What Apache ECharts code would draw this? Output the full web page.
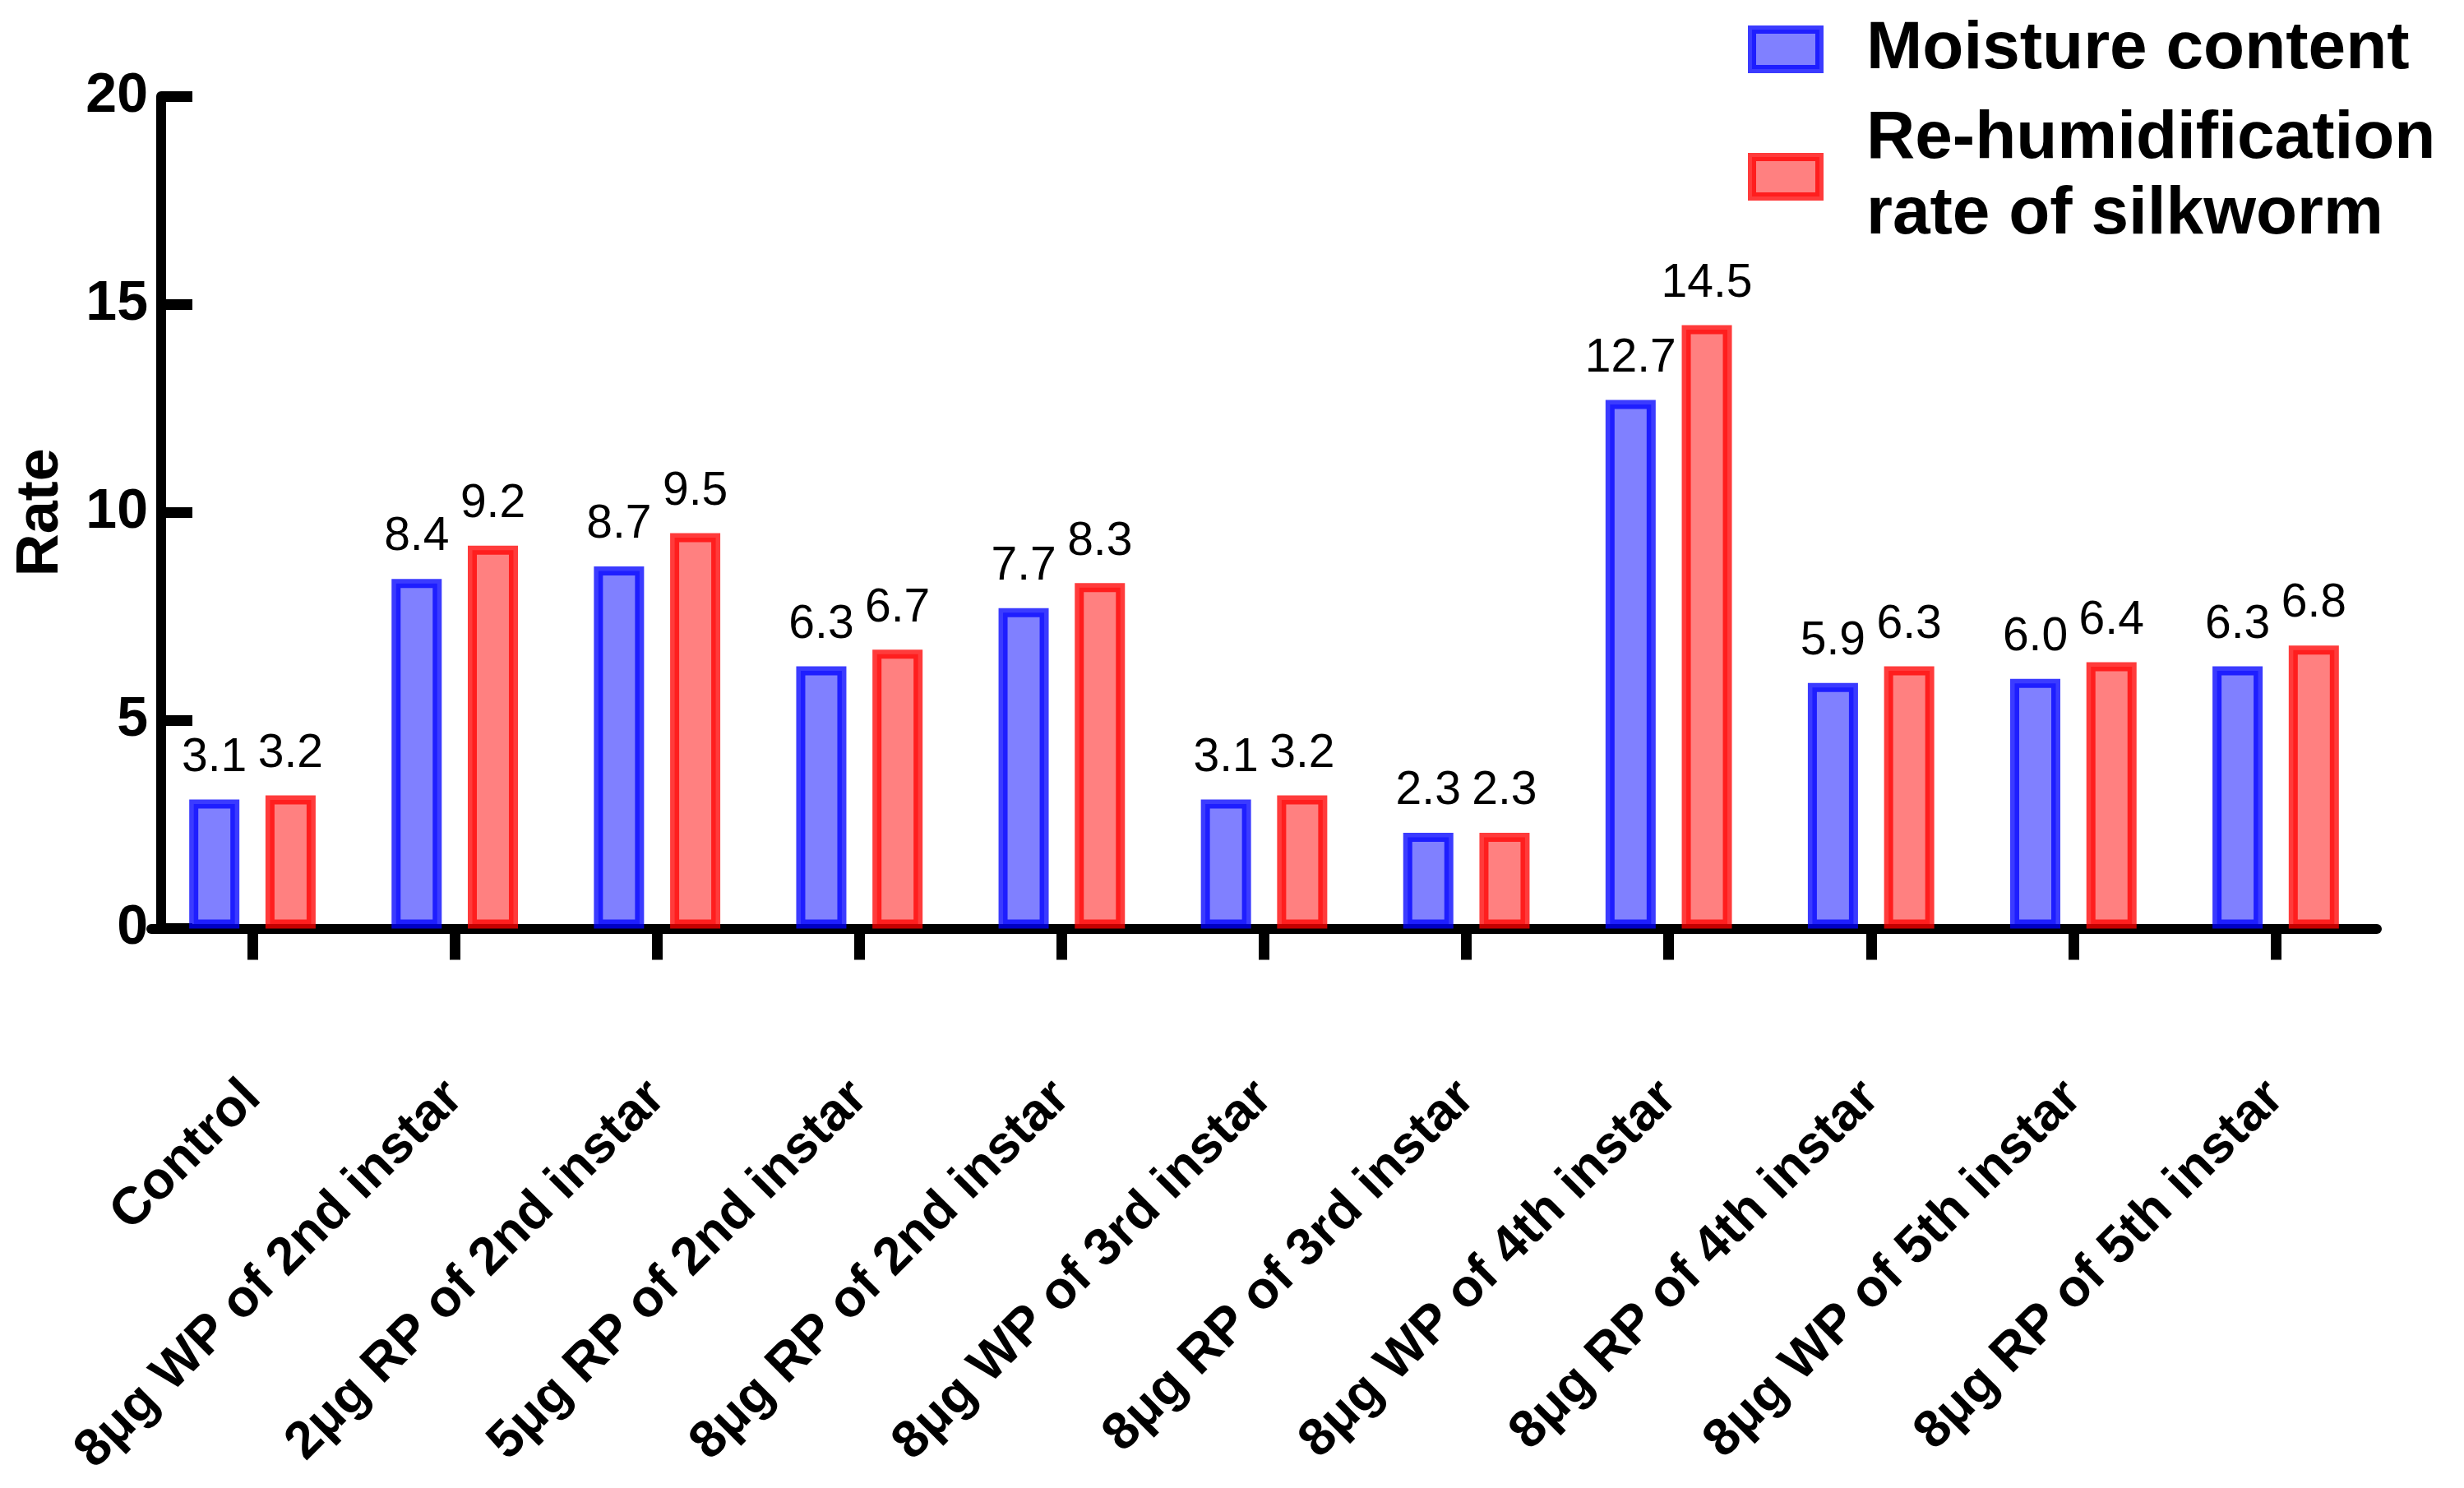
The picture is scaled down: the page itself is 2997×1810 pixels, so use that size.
<!DOCTYPE html>
<html>
<head>
<meta charset="utf-8">
<script src="https://cdn.jsdelivr.net/npm/echarts@6/dist/echarts.min.js"></script>
<style>
html,body{margin:0;padding:0;background:#fff;}
#chart{width:2997px;height:1810px;}
</style>
</head>
<body>
<div id="chart"></div>
<script>
const categories = ['Control', '8μg WP of 2nd instar', '2μg RP of 2nd instar', '5μg RP of 2nd instar', '8μg RP of 2nd instar', '8μg WP of 3rd instar', '8μg RP of 3rd instar', '8μg WP of 4th instar', '8μg RP of 4th instar', '8μg WP of 5th instar', '8μg RP of 5th instar'];
const moistureContent = [3.1, 8.4, 8.7, 6.3, 7.7, 3.1, 2.3, 12.7, 5.9, 6.0, 6.3];
const rehumidificationRate = [3.2, 9.2, 9.5, 6.7, 8.3, 3.2, 2.3, 14.5, 6.3, 6.4, 6.8];
const seriesNames = ['Moisture content', 'Re-humidification\nrate of silkworm'];
const yTicks = [0, 5, 10, 15, 20];

const FONT = 'Liberation Sans, Arial, sans-serif';
const chart = echarts.init(document.getElementById('chart'), null, {renderer: 'canvas'});

function barSeries(name, data, fill, border) {
  return {
    name: name,
    type: 'bar',
    data: data,
    barWidth: 61,
    barGap: '52%',
    itemStyle: {color: fill, borderColor: border, borderWidth: 11},
    label: {
      show: true,
      position: 'top',
      distance: 22,
      fontFamily: FONT,
      fontSize: 57,
      color: '#000',
      formatter: p => Number(p.value).toFixed(1)
    }
  };
}

const option = {
  backgroundColor: '#fff',
  animation: false,
  grid: {left: 184, right: 106, top: 117, bottom: 680.5, containLabel: false},
  legend: {
    orient: 'vertical',
    left: 2121,
    top: 9,
    itemWidth: 82,
    itemHeight: 48,
    itemGap: 17,
    textStyle: {fontFamily: FONT, fontSize: 82, fontWeight: 'bold', color: '#000', lineHeight: 92, padding: [0, 0, 0, 52]},
    data: [
      {name: seriesNames[0], icon: 'rect', itemStyle: {color: '#8080ff', borderColor: 'rgba(0,0,255,0.77)', borderWidth: 10}},
      {name: seriesNames[1], icon: 'rect', itemStyle: {color: '#ff8080', borderColor: 'rgba(255,0,0,0.77)', borderWidth: 10}}
    ]
  },
  xAxis: {
    type: 'category',
    data: categories,
    boundaryGap: true,
    axisLine: {show: true, lineStyle: {color: '#000', width: 12}},
    axisTick: {show: true, alignWithLabel: true, inside: false, length: 38, lineStyle: {color: '#000', width: 13}},
    axisLabel: {
      interval: 0,
      rotate: 45,
      margin: 196,
      fontFamily: FONT,
      fontSize: 64,
      fontWeight: 'bold',
      color: '#000'
    },
    splitLine: {show: false}
  },
  yAxis: {
    type: 'value',
    offset: -12,
    min: yTicks[0],
    max: yTicks[yTicks.length - 1],
    interval: yTicks[1] - yTicks[0],
    name: 'Rate',
    nameLocation: 'middle',
    nameGap: 110,
    nameTextStyle: {fontFamily: FONT, fontSize: 72, fontWeight: 'bold', color: '#000'},
    axisLine: {show: true, lineStyle: {color: '#000', width: 12}},
    axisTick: {show: true, inside: true, length: 38, lineStyle: {color: '#000', width: 13}},
    axisLabel: {margin: 16, fontFamily: FONT, fontSize: 68, fontWeight: 'bold', color: '#000'},
    splitLine: {show: false}
  },
  series: [
    barSeries(seriesNames[0], moistureContent, '#8080ff', 'rgba(0,0,255,0.77)'),
    barSeries(seriesNames[1], rehumidificationRate, '#ff8080', 'rgba(255,0,0,0.77)')
  ]
};
chart.setOption(option);
</script>
</body>
</html>
